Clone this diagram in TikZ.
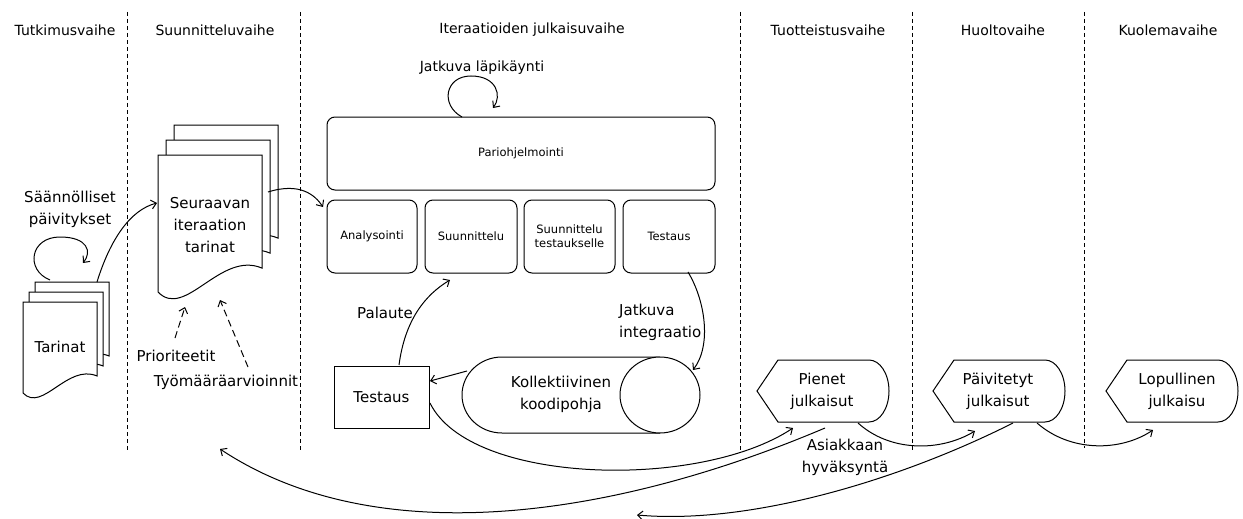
\documentclass[tikz,border=0pt]{standalone}
\usepackage{fontspec}
\setmainfont{DejaVu Sans}
\usetikzlibrary{arrows.meta,calc}

% document-like sheet with a wavy lower edge: x0, top, width, height
\newcommand\docsheet[4]{%
  \filldraw[sheet] (#1,#2) -- ({#1+#3},#2) -- ({#1+#3},{#2+#4-0.23*#3})
    .. controls ({#1+0.6*#3},{#2+#4-0.4*#3}) and ({#1+0.26*#3},{#2+#4+0.27*#3}) .. (#1,{#2+#4}) -- cycle;}

% release shape: pointed left end, rounded right end; centre x, centre y
\newcommand\releaseshape[2]{%
  \draw[sheet] ({#1-66},#2) -- ({#1-45},{#2-31}) -- ({#1+46},{#2-31})
    arc[start angle=270,end angle=450,x radius=20,y radius=31]
    -- ({#1-45},{#2+31}) -- cycle;}

\begin{document}
\begin{tikzpicture}[x=1pt,y=-1pt,
  sheet/.style={draw=black,fill=white,line width=1pt},
  phase/.style={font=\fontsize{14}{17}\selectfont,inner sep=0},
  sep/.style={draw=black,dash pattern=on 4pt off 3pt,line width=1pt},
  rbox/.style={draw=black,rounded corners=8pt,line width=1pt,fill=white,
    font=\fontsize{11.5}{14}\selectfont,align=center,inner sep=0},
  lbl/.style={font=\fontsize{15}{22}\selectfont,align=center,inner sep=0},
  small/.style={font=\fontsize{14}{21}\selectfont,align=center,inner sep=0},
  conn/.style={-{Straight Barb[length=5pt,width=9pt]},line width=1pt},
  dconn/.style={conn,dash pattern=on 7pt off 4pt}]

\useasboundingbox (0,0) rectangle (1243,519);

% phase separators
\foreach \xx/\yy in {127/452,300/452,740/452,912/452,1084/448}
  \draw[sep] (\xx,12) -- (\xx,\yy);

% phase titles
\node[phase] (p1) at (65,30) {Tutkimusvaihe};
\node[phase] (p2) at (215,30) {Suunnitteluvaihe};
\node[phase] (p3) at (532,30) {Iteraatioiden julkaisuvaihe};
\node[phase] (p4) at (828,30) {Tuotteistusvaihe};
\node[phase] (p5) at (1003,30) {Huoltovaihe};
\node[phase] (p6) at (1168,30) {Kuolemavaihe};

% story stacks
\docsheet{35}{282}{74}{91}
\docsheet{29}{292}{74}{91}
\docsheet{23}{302}{74}{91}
\node[lbl] (tar) at (60,347) {Tarinat};

\docsheet{174}{125}{104}{137}
\docsheet{166}{140}{104}{137}
\docsheet{158}{155}{104}{137}
\node[lbl] (seur) at (210,225) {Seuraavan\\iteraation\\tarinat};

\node[lbl] (saan) at (70,209) {Säännölliset\\päivitykset};
\node[lbl] (prio) at (176,356) {Prioriteetit};
\node[lbl] (tyom) at (226,382) {Työmääräarvioinnit};

% iteration work
\node[rbox,minimum width=388,minimum height=73] (pari) at (521,153.5) {Pariohjelmointi};
\node[rbox,minimum width=90,minimum height=73] (ana) at (372,236.5) {Analysointi};
\node[rbox,minimum width=92,minimum height=73] (suu) at (471,236.5) {Suunnittelu};
\node[rbox,minimum width=91,minimum height=73] (sut) at (569.5,236.5) {Suunnittelu\\testaukselle};
\node[rbox,minimum width=92,minimum height=73] (tes) at (669,236.5) {Testaus};

\node[small] (lapi) at (482,68) {Jatkuva läpikäynti};
\node[lbl] (pal) at (385,313) {Palaute};
\node[lbl,align=left,anchor=west] (integ) at (619,322.5) {Jatkuva\\integraatio};

% code base cylinder
\draw[sheet] (660,357) -- (502,357)
  arc[start angle=270,end angle=90,x radius=40,y radius=38] -- (660,433);
\draw[sheet] (660,395) ellipse[x radius=40,y radius=38];
\node[lbl] (kol) at (561,394) {Kollektiivinen\\koodipohja};

\node[lbl,draw=black,line width=0.9pt,minimum width=95,minimum height=62] (test) at (381.5,397) {Testaus};

% releases
\releaseshape{823}{391}
\node[lbl] (pien) at (822,391) {Pienet\\julkaisut};
\releaseshape{999}{391}
\node[lbl] (paiv) at (998,391) {Päivitetyt\\julkaisut};
\releaseshape{1172}{391}
\node[lbl] (lop) at (1177,391) {Lopullinen\\julkaisu};

\node[lbl] (asi) at (845,457) {Asiakkaan\\hyväksyntä};

% connector end points
\coordinate (tarTop) at (50,280);
\coordinate (tarLoop) at (83,263);
\coordinate (tarOut) at (97,282);
\coordinate (seurIn) at (157,203);
\coordinate (seurOut) at (268,192);
\coordinate (anaIn) at (323,207);
\coordinate (prioA) at (175,338);
\coordinate (prioB) at (185,307);
\coordinate (tyomA) at (248,367);
\coordinate (tyomB) at (220,300);
\coordinate (pariTop) at (462,117);
\coordinate (pariLoop) at (493,108);
\coordinate (testTop) at (399,365);
\coordinate (suuIn) at (450,280);
\coordinate (tesOut) at (688,272);
\coordinate (kolIn) at (693,370);
\coordinate (kolOut) at (467,371);
\coordinate (testIn) at (430,381);
\coordinate (testOut) at (430,403);
\coordinate (pienIn) at (793,428);
\coordinate (pienOut) at (858,423);
\coordinate (pienBack) at (825,428);
\coordinate (planIn) at (220,449);
\coordinate (paivIn) at (975,431);
\coordinate (paivOut) at (1037,423);
\coordinate (paivBack) at (1013,423);
\coordinate (iterIn) at (637,515);
\coordinate (lopIn) at (1153,430);

% connectors
\draw[conn] (tarTop) .. controls (25,270) and (30,237) .. (60,237)
  .. controls (88,237) and (92,252) .. (tarLoop);
\draw[conn] (tarOut) .. controls (110,240) and (130,210) .. (seurIn);
\draw[conn] (seurOut) .. controls (300,182) and (315,195) .. (anaIn);
\draw[dconn] (prioA) -- (prioB);
\draw[dconn] (tyomA) -- (tyomB);
\draw[conn] (pariTop) .. controls (440,105) and (445,76) .. (471,76)
  .. controls (497,76) and (502,96) .. (pariLoop);
\draw[conn] (testTop) .. controls (405,320) and (425,295) .. (suuIn);
\draw[conn] (tesOut) .. controls (705,300) and (712,345) .. (kolIn);
\draw[conn] (kolOut) -- (testIn);
\draw[conn] (testOut) .. controls (470,485) and (700,490) .. (pienIn);
\draw[conn] (pienOut) .. controls (890,452) and (940,452) .. (paivIn);
\draw[conn] (paivOut) .. controls (1070,452) and (1120,452) .. (lopIn);
\draw[conn] (pienBack) .. controls (620,515) and (380,555) .. (planIn);
\draw[conn] (paivBack) .. controls (900,480) and (750,525) .. (iterIn);
\end{tikzpicture}
\end{document}
